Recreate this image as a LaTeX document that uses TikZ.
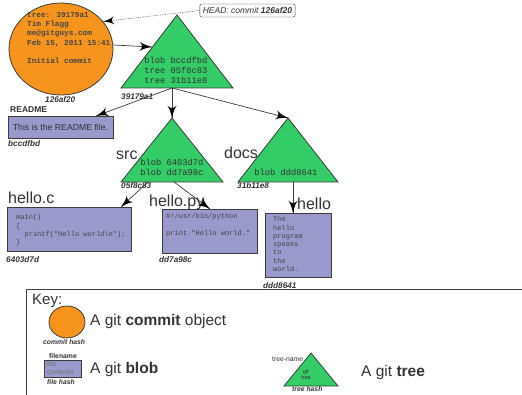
\documentclass[tikz,border=0pt]{standalone}
\usepackage{fontspec}
\setmainfont{Liberation Sans}
\newfontfamily\monofont{Liberation Mono}
\usepackage{tikz}
\usetikzlibrary{arrows}
\usetikzlibrary{decorations.markings}
\usetikzlibrary{shapes.geometric}
\usetikzlibrary{positioning}
\definecolor{commitorange}{RGB}{247,148,29}
\definecolor{treegreen}{RGB}{51,204,102}
\definecolor{blobpurple}{RGB}{153,153,204}
\definecolor{edgegray}{RGB}{60,60,60}
\definecolor{labelgray}{RGB}{51,51,51}
\definecolor{codegray}{RGB}{70,70,70}
\tikzset{link/.style = {draw=edgegray, line width=0.7pt,
                        decoration={markings,
                                    mark=at position 1 with {\arrow[scale=2.5,black]{latex'}}},
                        postaction={decorate}},
         commitobj/.style = {ellipse, draw=edgegray, fill=commitorange, line width=0.8pt, inner sep=0},
         treeobj/.style = {draw=edgegray, fill=treegreen, line width=0.8pt},
         blobobj/.style = {rectangle, draw=edgegray, fill=blobpurple, line width=1pt, inner sep=0, anchor=north west},
         hash/.style = {font=\fontsize{8.2}{9}\selectfont\bfseries\itshape, text=labelgray, inner sep=0, anchor=west},
         objname/.style = {font=\fontsize{16}{16}\selectfont, text=labelgray, inner sep=0, anchor=base west},
         keytext/.style = {font=\fontsize{15.5}{16}\selectfont, text=labelgray, inner sep=0, anchor=base west},
         keysmall/.style = {font=\fontsize{6.8}{7}\selectfont\bfseries\itshape, text=labelgray, inner sep=0, anchor=west},
         code/.style = {font=\monofont\fontsize{7}{8.3}\selectfont, text=codegray, inner sep=0, anchor=north west, align=left}}
% tree object: name, apex x, apex y, half width, height
\newcommand{\gittree}[5]{%
  \draw [treeobj] (#2,#3) -- ++(#4,#5) -- ++(-2*#4,0) -- cycle;
  \coordinate (#1-top) at (#2,#3);
  \coordinate (#1-bot) at (#2,#3+#5);}

\begin{document}
\begin{tikzpicture}[x=1pt, y=-1pt]
  \useasboundingbox (0,0) rectangle (522,395);
  % commit
  \node [commitobj, minimum width=104pt, minimum height=92pt] (commit) at (61,49) {};
  \node [font=\monofont\bfseries\fontsize{7.7}{9.3}\selectfont, text=codegray, inner sep=0, anchor=north west, align=left] (commitmsg) at (27,12)
        {tree: 39179a1\\Tim Flagg\\me@gitguys.com\\Feb 15, 2011 15:41\\[9.3pt]Initial commit};
  \node [hash] (commithash) at (45,100) {126af20};
  \node [draw=edgegray, rounded corners=2pt, fill=white, inner xsep=3pt, inner ysep=2pt, minimum height=13pt,
         font=\fontsize{8.5}{9}\selectfont\itshape, text=labelgray] (head) at (247.5,10.5) {HEAD: commit \textbf{126af20}};
  % trees
  \gittree{root}{177}{15}{56}{73}
  \node [font=\monofont\fontsize{8.75}{10}\selectfont, text=labelgray, align=center, inner sep=0] (roottext) at (176,70)
        {blob bccdfbd\\tree 05f8c83\\tree 31b11e8};
  \node [hash] (roothash) at (121,97) {39179a1};
  \gittree{src}{172}{118}{51}{64}
  \node [font=\monofont\fontsize{8.75}{10}\selectfont, text=labelgray, align=center, inner sep=0] (srctext) at (172,167)
        {blob 6403d7d\\blob dd7a98c};
  \node [objname] (srcname) at (116,160) {src};
  \node [hash] (srchash) at (121,186) {05f8c83};
  \gittree{docs}{288}{118}{50}{64}
  \node [font=\monofont\fontsize{8.75}{10}\selectfont, text=labelgray, inner sep=0] (docstext) at (286,172) {blob ddd8641};
  \node [objname] (docsname) at (224,159) {docs};
  \node [hash] (docshash) at (237,186) {31b11e8};
  % blobs
  \node [blobobj, minimum width=105pt, minimum height=22pt] (readme) at (8,116) {};
  \node [font=\fontsize{8.7}{9}\selectfont, text=labelgray, inner sep=0] (readmetext) at (60.5,127) {This is the README file.};
  \node [font=\fontsize{8.5}{9}\selectfont\bfseries, text=labelgray, inner sep=0, anchor=west] (readmename) at (10,110) {README};
  \node [hash] (readmehash) at (8,144) {bccdfbd};
  \node [blobobj, minimum width=124pt, minimum height=44pt] (helloc) at (7,207) {};
  \node [code] (hellocsrc) at (16,214.5) {main()\\\{\\\ \ printf("Hello world\textbackslash n");\\\}};
  \node [objname] (hellocname) at (8,204) {hello.c};
  \node [hash] (hellochash) at (6,260) {6403d7d};
  \node [blobobj, minimum width=95pt, minimum height=44pt] (hellopy) at (162,209) {};
  \node [code] (hellopysrc) at (166,213.5) {\#!/usr/bin/python\\[8.3pt]print "Hello world."};
  \node [objname] (hellopyname) at (149,207) {hello.py};
  \node [hash] (hellopyhash) at (159,260) {dd7a98c};
  \node [blobobj, minimum width=66pt, minimum height=64pt] (hello) at (265,213) {};
  \node [code] (hellosrc) at (273,216.5) {The\\hello\\program\\speaks\\to\\the\\world.};
  \node [objname] (helloname) at (297,210) {hello};
  \node [hash] (hellohash) at (263,286) {ddd8641};
  % connectors
  \coordinate (root-out) at ([xshift=-5pt]root-bot);
  \draw [link, densely dotted, line width=0.5pt] (head.west) -- (commit.33);
  \draw [link] ([yshift=4pt]commit.east) -- ([xshift=-25pt,yshift=-32pt]root-top);
  \draw [link] (root-out) -- ([xshift=-18pt]readme.north east);
  \draw [link] (root-out) -- (src-top);
  \draw [link] (root-out) -- (docs-top);
  \draw [link] ([xshift=-24pt]src-bot) -- ([xshift=-11pt]helloc.north east);
  \draw [link] ([xshift=2pt]src-bot) -- (hellopy.north);
  \draw [link] ([xshift=5pt]docs-bot) -- ([xshift=5pt]docs-bot |- hello.north);
  % key
  \draw [edgegray, line width=0.8pt] (26,400) -- (26,289) -- (530,289);
  \node [objname, font=\fontsize{15}{16}\selectfont] (keyname) at (32,305) {Key:};
  \node [commitobj, minimum width=36pt, minimum height=32pt] (keycommit) at (67,322) {};
  \node [keysmall] (keycommithash) at (43,342) {commit hash};
  \node [keytext] (keycommittext) at (90,326) {A git \textbf{commit} object};
  \node [blobobj, minimum width=37pt, minimum height=17pt, line width=0.8pt] (keyblob) at (44,360) {};
  \node [font=\fontsize{7}{8}\selectfont, text=gray!90!black, inner sep=0, anchor=north west, align=left] (keyblobtext) at (47,361.5) {file\\contents};
  \node [keysmall, font=\fontsize{6.8}{7}\selectfont\bfseries] (keyblobname) at (49,356) {filename};
  \node [keysmall] (keyblobhash) at (47,382) {file hash};
  \node [keytext] (keyblobtext2) at (90,373.5) {A git \textbf{blob}};
  \gittree{keytree}{311}{353}{27}{33}
  \node [font=\fontsize{5.5}{6.5}\selectfont, text=labelgray, align=center, inner sep=0] (keytreetext) at (306,374.5) {git\\tree};
  \node [keysmall, font=\fontsize{6.8}{7}\selectfont] (keytreename) at (272,359) {tree-name};
  \node [keysmall] (keytreehash) at (292,389.5) {tree hash};
  \node [keytext] (keytreetext2) at (361,376) {A git \textbf{tree}};
\end{tikzpicture}
\end{document}
